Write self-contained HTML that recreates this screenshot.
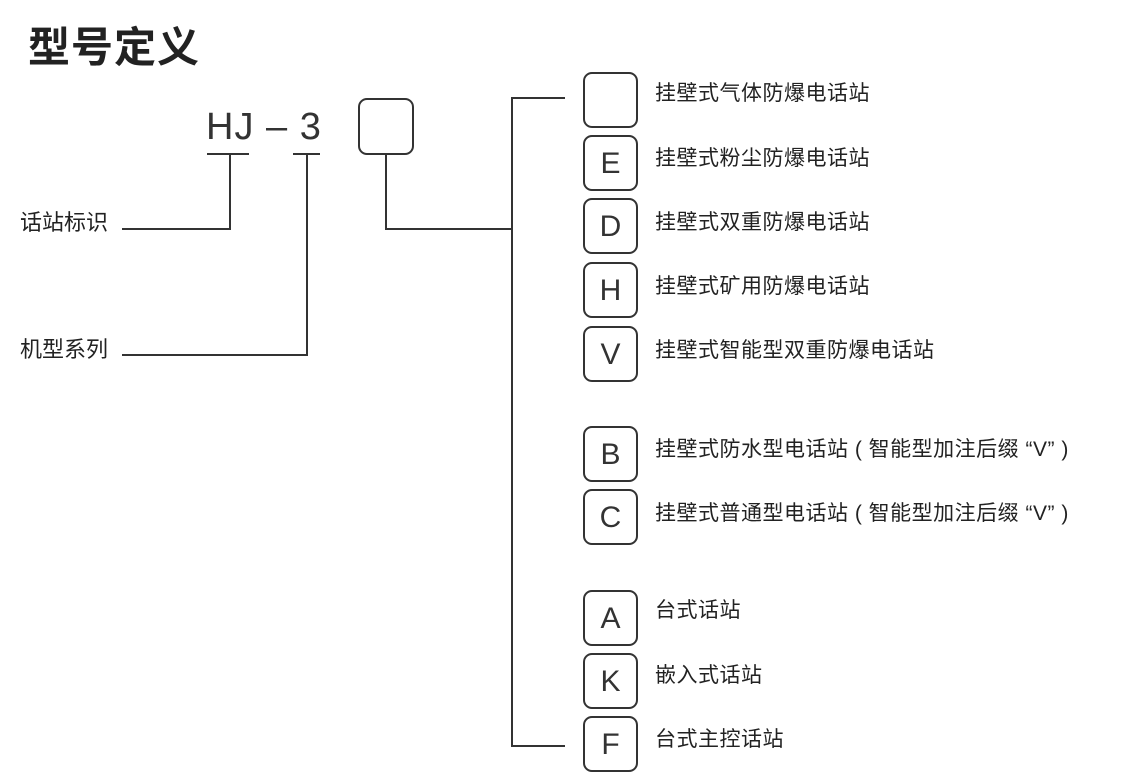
<!DOCTYPE html>
<html><head><meta charset="utf-8"><style>
body{margin:0;background:#fff;width:1132px;height:763px;overflow:hidden;position:relative;font-family:"Liberation Sans","Noto Sans CJK SC",sans-serif;color:#222}
.t{position:absolute;white-space:nowrap}
.b{position:absolute;left:583px;width:51px;height:52px;border:2px solid #333;border-radius:9px;font-size:30px;text-align:center;line-height:54px;color:#333}
.l{position:absolute;font-size:21px;left:655px;white-space:nowrap;letter-spacing:0.5px}
.h{position:absolute;background:#333;height:2px}
.v{position:absolute;background:#333;width:2px}
</style></head><body>
<div class="t" style="left:28px;top:14px;font-size:42px;font-weight:bold;letter-spacing:1px;color:#222">型号定义</div>
<div class="t" style="left:206px;top:106px;font-size:38px;color:#333;letter-spacing:1px">HJ – 3</div>
<div class="h" style="left:207px;top:153px;width:42px"></div>
<div class="h" style="left:293px;top:153px;width:27px"></div>
<div class="v" style="left:229px;top:153px;height:77px"></div>
<div class="h" style="left:122px;top:228px;width:109px"></div>
<div class="v" style="left:306px;top:153px;height:203px"></div>
<div class="h" style="left:122px;top:354px;width:186px"></div>
<div class="t" style="left:20px;top:205px;font-size:22px">话站标识</div>
<div class="t" style="left:20px;top:332px;font-size:22px">机型系列</div>
<div style="position:absolute;left:358px;top:98px;width:52px;height:53px;border:2px solid #333;border-radius:9px"></div>
<div class="v" style="left:385px;top:153px;height:77px"></div>
<div class="h" style="left:385px;top:228px;width:128px"></div>
<div class="v" style="left:511px;top:97px;height:650px"></div>
<div class="h" style="left:511px;top:97px;width:54px"></div>
<div class="h" style="left:511px;top:745px;width:54px"></div>
<div class="b" style="top:72px"></div><div class="l" style="top:77px">挂壁式气体防爆电话站</div>
<div class="b" style="top:135px">E</div><div class="l" style="top:142px">挂壁式粉尘防爆电话站</div>
<div class="b" style="top:198px">D</div><div class="l" style="top:206px">挂壁式双重防爆电话站</div>
<div class="b" style="top:262px">H</div><div class="l" style="top:270px">挂壁式矿用防爆电话站</div>
<div class="b" style="top:326px">V</div><div class="l" style="top:334px">挂壁式智能型双重防爆电话站</div>
<div class="b" style="top:426px">B</div><div class="l" style="top:433px">挂壁式防水型电话站 ( 智能型加注后缀 “V” )</div>
<div class="b" style="top:489px">C</div><div class="l" style="top:497px">挂壁式普通型电话站 ( 智能型加注后缀 “V” )</div>
<div class="b" style="top:590px">A</div><div class="l" style="top:594px">台式话站</div>
<div class="b" style="top:653px">K</div><div class="l" style="top:659px">嵌入式话站</div>
<div class="b" style="top:716px">F</div><div class="l" style="top:723px">台式主控话站</div>
</body></html>
